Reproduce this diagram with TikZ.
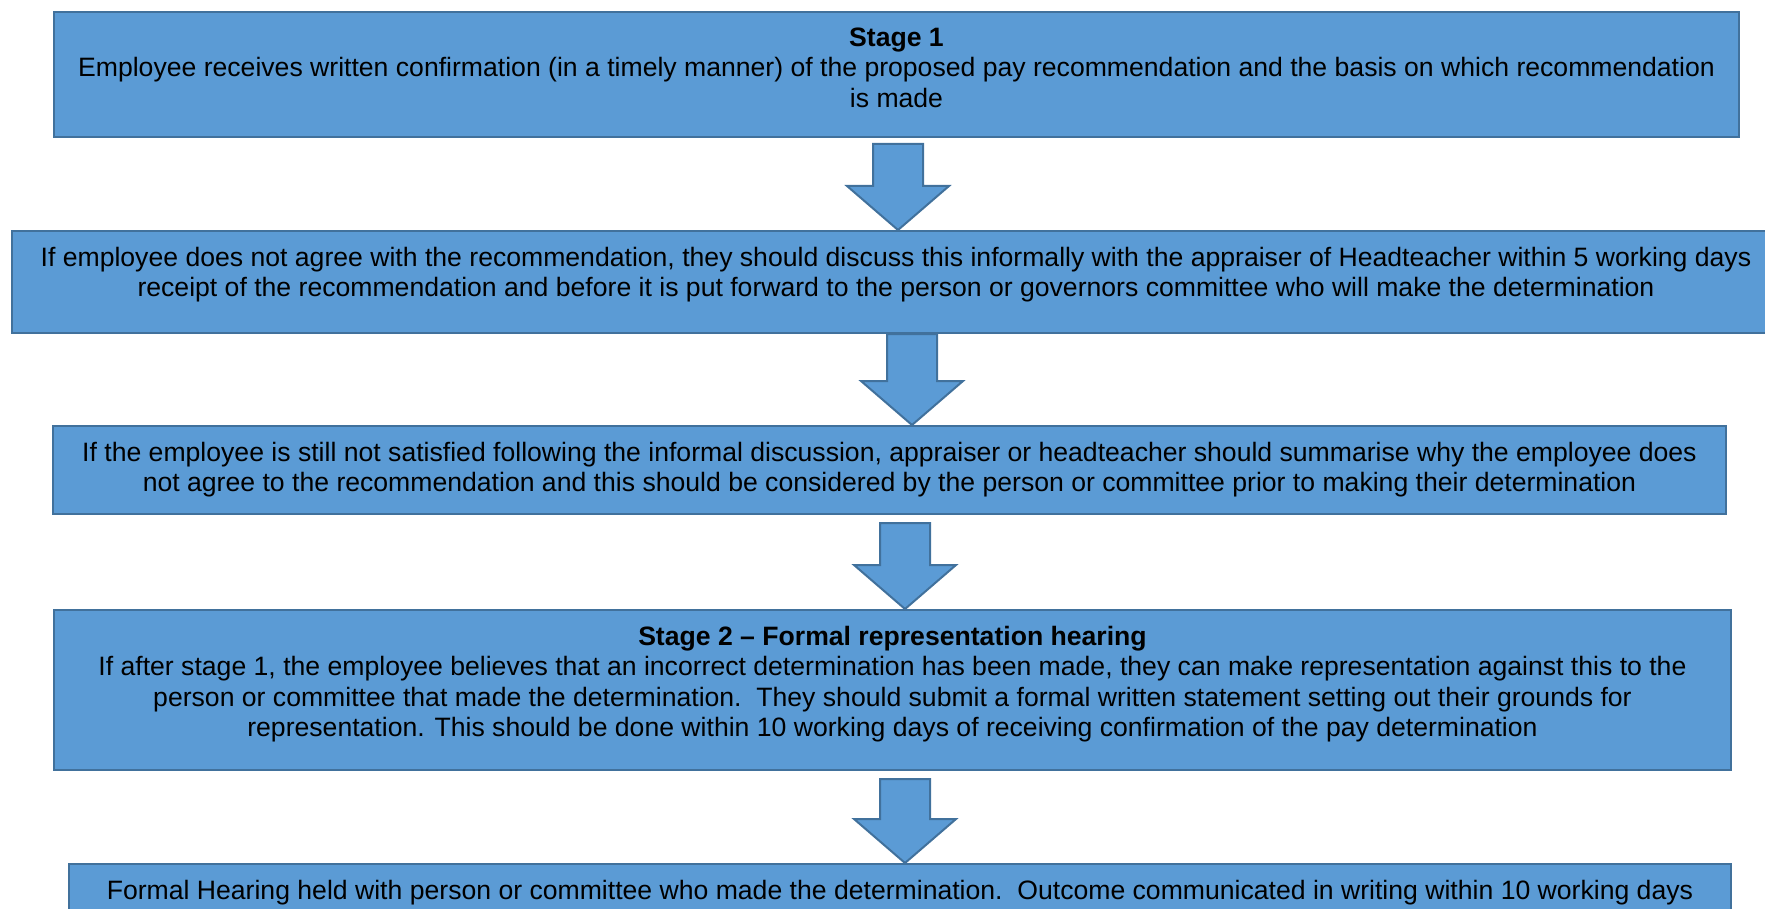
\documentclass[tikz,border=0pt]{standalone}
\usepackage{fontspec}
\setmainfont{Liberation Sans}
\usetikzlibrary{positioning,calc}
\definecolor{boxfill}{HTML}{5B9BD5}
\definecolor{boxline}{HTML}{41719C}
\tikzset{
  stage box/.style={draw=boxline, fill=boxfill, line width=1pt, rectangle, anchor=north west, inner sep=0pt},
  stage text/.style={align=center, inner sep=0pt, font=\fontsize{13.3}{15.3}\selectfont},
  flow arrow/.style={draw=boxline, fill=boxfill, line width=1pt, line join=miter},
}
\newcommand{\stagearrow}[4][3pt]{%
  \draw[flow arrow] let \p1=(#2.south), \p2=($(#3.north)+(#4,0)$) in
    (\x2-12.5pt,\y1-#1) -- (\x2+12.5pt,\y1-#1) -- (\x2+12.5pt,\y2+22pt) -- (\x2+25.5pt,\y2+22pt)
    -- (\x2,\y2) -- (\x2-25.5pt,\y2+22pt) -- (\x2-12.5pt,\y2+22pt) -- cycle;}

\begin{document}
\begin{tikzpicture}[x=0.5pt, y=-0.5pt]
  \clip (0,0) rectangle (1765,909);
  \node[stage box, minimum width=842.5pt, minimum height=62.5pt] (b1) at (53,11) {};
  \node[stage box, minimum width=884pt, minimum height=51pt] (b2) at (11,230) {};
  \node[stage box, minimum width=836.5pt, minimum height=44pt] (b3) at (52,425) {};
  \node[stage box, minimum width=838.5pt, minimum height=80pt] (b4) at (53,609) {};
  \node[stage box, minimum width=831pt, minimum height=50pt] (b5) at (68,863) {};

  \node[stage text, below=8.2pt of b1.north] (t1) {\textbf{Stage 1}\\
    Employee receives written confirmation (in a timely manner) of the proposed pay recommendation and the basis on which recommendation\\
    is made};
  \node[stage text, below=8.2pt of b2.north] (t2) {If employee does not agree with the recommendation, they should discuss this informally with the appraiser of Headteacher within 5 working days\\
    receipt of the recommendation and before it is put forward to the person or governors committee who will make the determination};
  \node[stage text, below=8.2pt of b3.north] (t3) {If the employee is still not satisfied following the informal discussion, appraiser or headteacher should summarise why the employee does\\
    not agree to the recommendation and this should be considered by the person or committee prior to making their determination};
  \node[stage text, below=8.2pt of b4.north] (t4) {\textbf{Stage 2 – Formal representation hearing}\\
    If after stage 1, the employee believes that an incorrect determination has been made, they can make representation against this to the\\
    person or committee that made the determination.\ \ They should submit a formal written statement setting out their grounds for\\
    representation. This should be done within 10 working days of receiving confirmation of the pay determination};
  \node[stage text, below=8.2pt of b5.north] (t5) {Formal Hearing held with person or committee who made the determination.\ \ Outcome communicated in writing within 10 working days};

  \stagearrow{b1}{b2}{1pt}
  \stagearrow[0pt]{b2}{b3}{11.25pt}
  \stagearrow[4pt]{b3}{b4}{6.25pt}
  \stagearrow[4pt]{b4}{b5}{2.5pt}
\end{tikzpicture}
\end{document}
